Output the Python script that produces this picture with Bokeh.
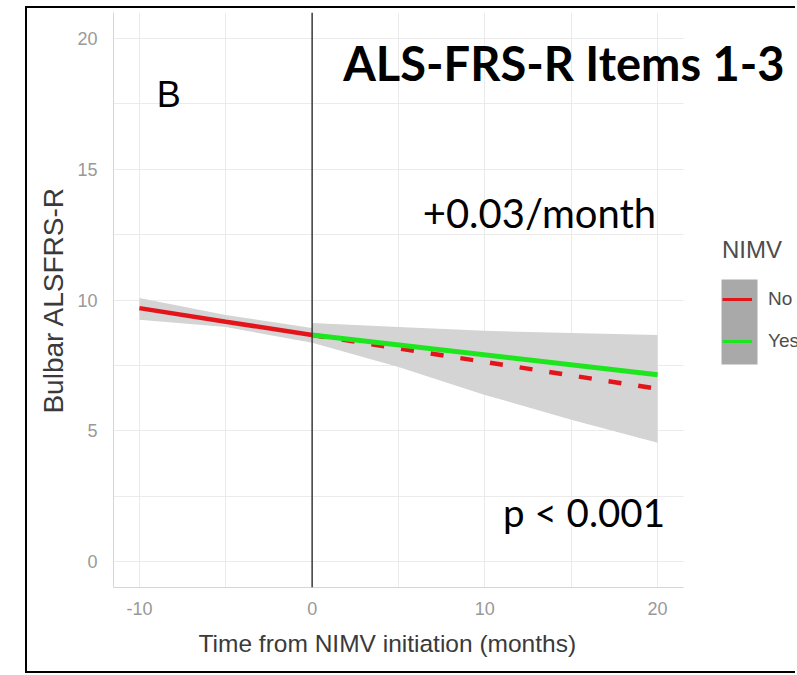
from bokeh.plotting import figure
from bokeh.models import (Label, Span, Legend, LegendItem, FixedTicker,
                          ColumnDataSource, Range1d, BoxAnnotation, Title)
from bokeh.embed import file_html
from bokeh.resources import INLINE

# ---- data ----
x_ticks = [-10, 0, 10, 20]
x_minor = [-5, 5, 15]
y_ticks = [0, 5, 10, 15, 20]
y_minor = [2.5, 7.5, 12.5, 17.5]

pre_x = [-10, -5, 0]
pre_fit = [9.69, 9.17, 8.66]
pre_upper = [10.08, 9.43, 8.93]
pre_lower = [9.24, 8.97, 8.36]

post_x = [0, 5, 10, 15, 20]
post_upper = [9.12, 8.97, 8.82, 8.74, 8.66]
post_lower = [8.36, 7.44, 6.37, 5.42, 4.54]

no_post_x = [0, 20]
no_post_fit = [8.66, 6.60]
yes_x = [0, 20]
yes_fit = [8.66, 7.14]

groups = ["No", "Yes"]

RED = "#e3151a"
GREEN = "#1ee61e"
BAND = "#d4d4d4"
KEY = "#a9a9a9"

X_LO, X_HI = -11.5, 21.5          # panel limits (ggplot 5% expansion)
X_VIEW_HI = 28.1                  # frame continues under the legend area

p = figure(width=770, height=667,
           x_range=Range1d(X_LO, X_VIEW_HI), y_range=Range1d(-1, 21),
           output_backend="svg", toolbar_location=None,
           min_border_left=86, min_border_right=0,
           min_border_top=4, min_border_bottom=88)
p.styles = {"margin-left": "25px", "margin-top": "6px",
            "border-left": "2px solid black",
            "border-top": "2px solid black", "border-bottom": "2px solid black"}
p.outline_line_color = None
p.background_fill_color = "white"
p.border_fill_color = "white"

for ax, t, m in ((p.xaxis, x_ticks, x_minor), (p.yaxis, y_ticks, y_minor)):
    ax.ticker = FixedTicker(ticks=t, minor_ticks=m)
    ax.axis_line_color = "#d6d6d6"
    ax.major_tick_line_color = None
    ax.minor_tick_line_color = None
    ax.major_tick_out = 0
    ax.major_label_text_color = "#999999"
    ax.major_label_text_font = "Liberation Sans"
    ax.major_label_text_font_size = "18px"
    ax.axis_label_text_font = "Liberation Sans"
    ax.axis_label_text_font_style = "normal"
    ax.axis_label_text_color = "#3a3a3a"

p.xaxis.bounds = (X_LO, X_HI)
p.xaxis.major_label_overrides = {-10: "-10"}
p.xaxis.major_label_standoff = 10
p.yaxis.major_label_standoff = 12
p.yaxis.axis_label_standoff = 5
p.yaxis.axis_label = "Bulbar ALSFRS-R"
p.yaxis.axis_label_text_font_size = "28px"

p.add_layout(Title(text="Time from NIMV initiation (months)", align="left",
                   offset=85, text_font="Liberation Sans",
                   text_font_style="normal", text_font_size="24.5px",
                   text_color="#3a3a3a", standoff=21), "below")

for g, t, m in ((p.xgrid, x_ticks, x_minor), (p.ygrid, y_ticks, y_minor)):
    g.ticker = FixedTicker(ticks=t, minor_ticks=m)
    g.grid_line_color = "#ebebeb"
    g.minor_grid_line_color = "#ebebeb"
    g.grid_line_width = 1

# blank the part of the frame that lies right of the panel
p.add_layout(BoxAnnotation(left=X_HI, fill_color="white", fill_alpha=1,
                           line_color=None, level="underlay"))

pre = ColumnDataSource(dict(x=pre_x, fit=pre_fit, lo=pre_lower, hi=pre_upper))
post = ColumnDataSource(dict(x=post_x, lo=post_lower, hi=post_upper))

p.varea(x="x", y1="lo", y2="hi", source=pre, fill_color=BAND)
p.varea(x="x", y1="lo", y2="hi", source=post, fill_color=BAND)
p.line(x="x", y="fit", source=pre, line_color=RED, line_width=4.5)
p.line(x=no_post_x, y=no_post_fit, line_color=RED, line_width=4.5,
       line_dash="13 17")
p.line(x=yes_x, y=yes_fit, line_color=GREEN, line_width=5)

p.add_layout(Span(location=0, dimension="height", line_color="#3a3a3a",
                  line_width=1.5))

# grey key background of the legend (canvas pixels)
p.add_layout(BoxAnnotation(left=692, right=728, top=269, bottom=354,
                           left_units="canvas", right_units="canvas",
                           top_units="canvas", bottom_units="canvas",
                           fill_color=KEY, fill_alpha=1, line_color=None))

# legend key renderers: one degenerate point each (draws nothing in the plot)
key_src = ColumnDataSource(dict(x=[X_VIEW_HI], y=[0]))
leg_no = p.line(x="x", y="y", source=key_src, line_color=RED, line_width=3)
leg_yes = p.line(x="x", y="y", source=key_src, line_color=GREEN, line_width=3)
legend = Legend(items=[LegendItem(label=groups[0], renderers=[leg_no]),
                       LegendItem(label=groups[1], renderers=[leg_yes])],
                title="NIMV", location=(609, 225))
legend.background_fill_alpha = 0
legend.border_line_color = None
legend.padding = 0
legend.margin = 0
legend.spacing = 0
legend.glyph_width = 30
legend.glyph_height = 42
legend.label_height = 42
legend.label_standoff = 16
legend.label_text_font = "Liberation Sans"
legend.label_text_font_size = "19px"
legend.label_text_color = "#4d4d4d"
legend.title_text_font = "Liberation Sans"
legend.title_text_font_size = "24px"
legend.title_text_font_style = "normal"
legend.title_text_color = "#4d4d4d"
legend.title_standoff = 14
p.add_layout(legend)

# annotations
p.add_layout(Label(x=1.8, y=19.08, text="ALS-FRS-R Items 1-3", text_font="Lato",
                   text_font_style="bold", text_font_size="47px",
                   text_color="black", text_baseline="alphabetic"))
p.add_layout(Label(x=6.4, y=13.34, text="+0.03/month", text_font="Lato",
                   text_font_size="40px", text_color="black",
                   text_baseline="alphabetic"))
p.add_layout(Label(x=11.05, y=1.87, text="p < 0.001", text_font="Lato",
                   text_font_size="38.5px", text_color="black",
                   text_baseline="alphabetic"))
p.add_layout(Label(x=-9.0, y=17.87, text="B", text_font="Liberation Sans",
                   text_font_size="36px", text_color="black",
                   text_baseline="alphabetic"))

open("out.html", "w").write(file_html(p, INLINE))
